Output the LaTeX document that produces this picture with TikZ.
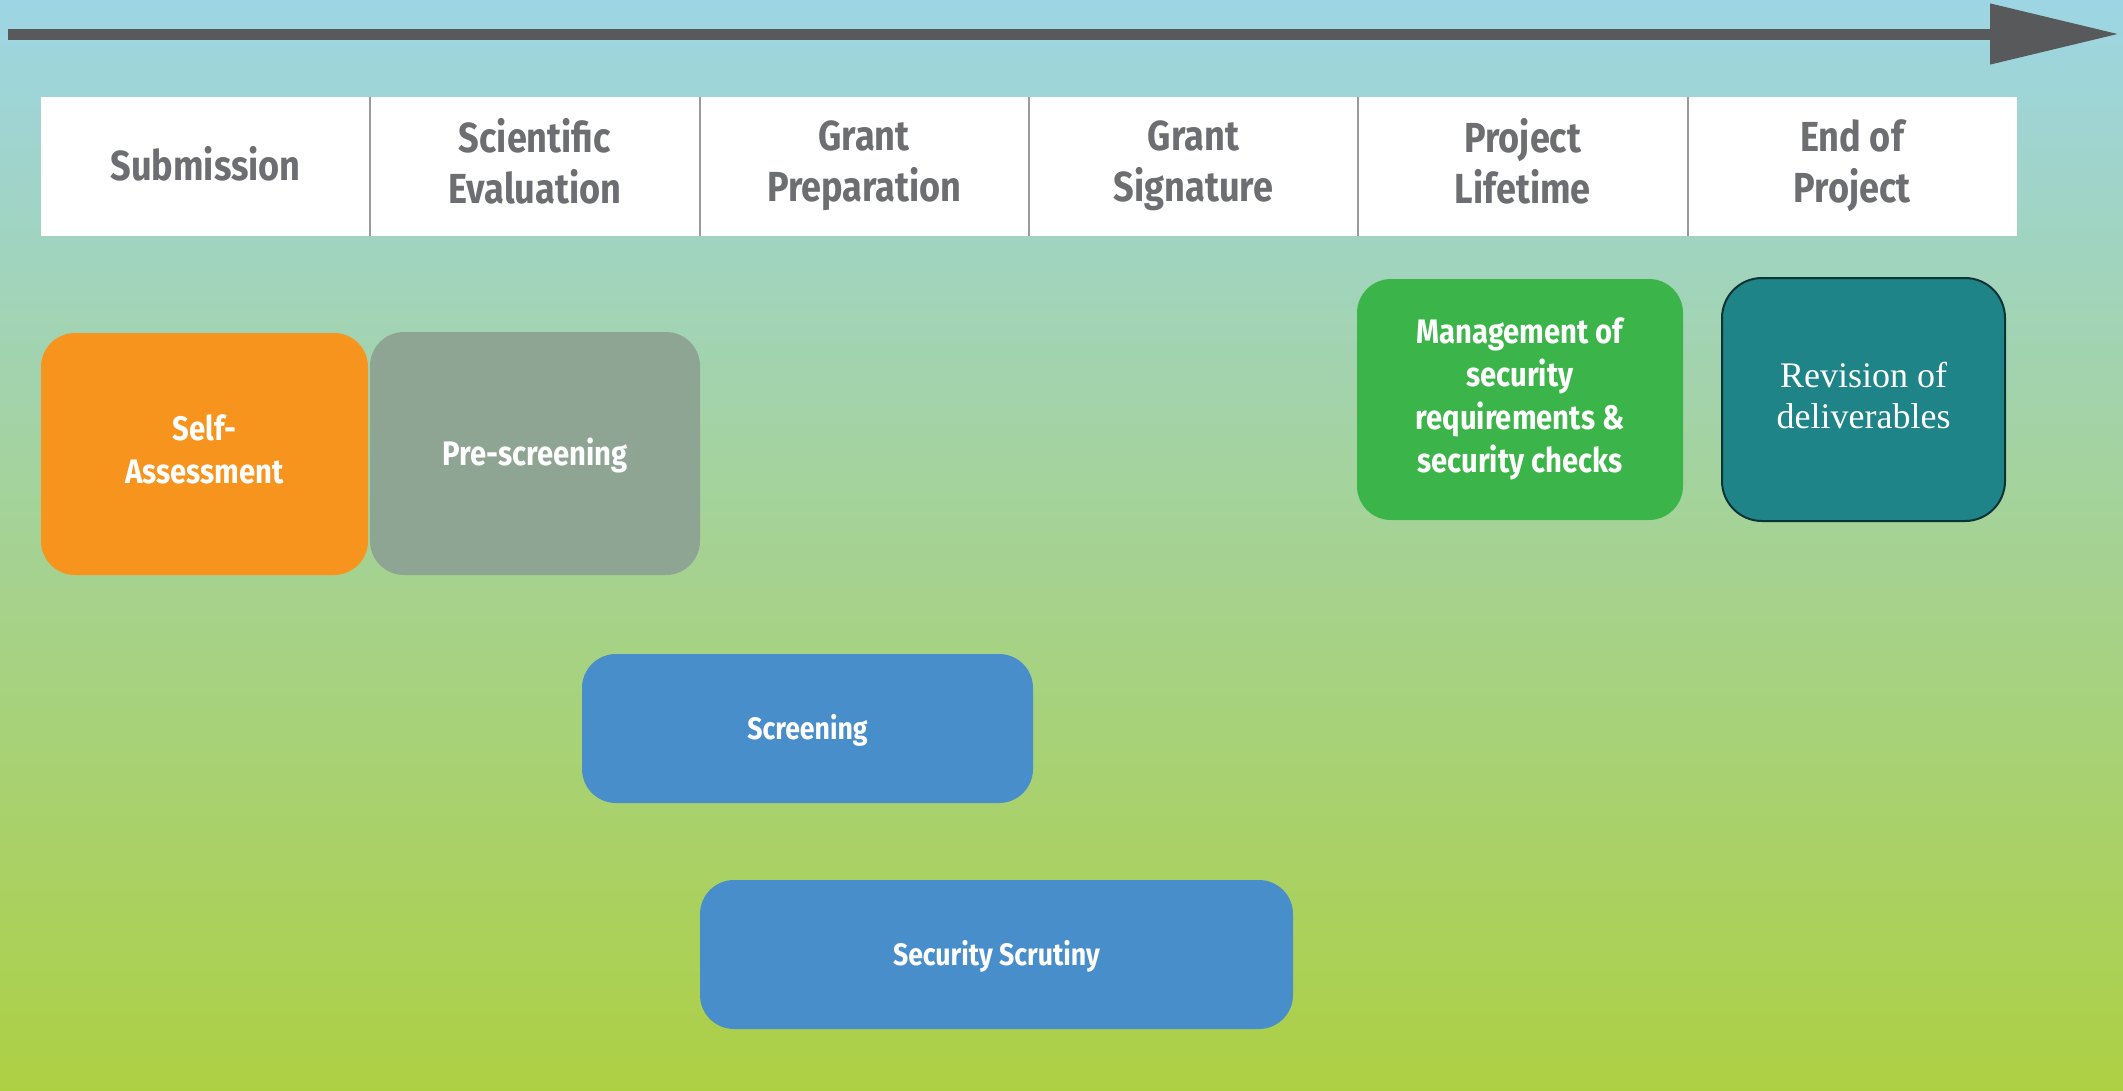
\documentclass[tikz,border=0pt]{standalone}
\usepackage{fontspec}
\usetikzlibrary{arrows.meta}
\newfontfamily\ecfont[FakeStretch=0.86]{Fira Sans}
\newfontfamily\serfont{Liberation Serif}
\newcommand\capstrut{\rule[-0.26em]{0pt}{1.21em}}

\definecolor{skyblue}{HTML}{9DD5E4}
\definecolor{midgreen}{HTML}{A6D4A8}
\definecolor{limegreen}{HTML}{ADD043}
\definecolor{arrowgrey}{HTML}{58595B}
\definecolor{headgrey}{HTML}{6D6E71}
\definecolor{linegrey}{HTML}{9A9A9A}
\definecolor{selforange}{HTML}{F7941D}
\definecolor{presage}{HTML}{8FA593}
\definecolor{screenblue}{HTML}{488ECB}
\definecolor{mgmtgreen}{HTML}{3BB54A}
\definecolor{revteal}{HTML}{1E8488}
\definecolor{revedge}{HTML}{0B3436}

\tikzset{
  phase/.style={fill=white, minimum width=329.3pt, minimum height=139pt, inner sep=0pt,
    align=center, text=headgrey, font=\ecfont\bfseries\fontsize{42}{51}\selectfont,
    execute at begin node=\capstrut, execute at end node=\capstrut},
  task/.style={rounded corners=34pt, inner sep=0pt, align=center, text=white,
    font=\ecfont\bfseries\fontsize{34}{43}\selectfont,
    execute at begin node=\capstrut, execute at end node=\capstrut},
  bluetask/.style={task, fill=screenblue, font=\ecfont\bfseries\fontsize{31}{38}\selectfont}
}

\begin{document}
\begin{tikzpicture}[x=1pt, y=-1pt]
  \useasboundingbox (0,0) rectangle (2123,1090);
  \shade [top color=skyblue, middle color=midgreen, bottom color=limegreen] (0,0) rectangle (2123,1090);

  % timeline arrow
  \coordinate (tstart) at (8,34);
  \coordinate (tend) at (2119,34);
  \draw [arrowgrey, line width=11pt, -{Triangle[length=129pt, width=58pt]}] (tstart) -- (tend);

  % phases
  \node [phase] (sub) at (205.6,166.5) {Submission};
  \node [phase] (sci) at (534.9,166.5) {Scientific\\Evaluation};
  \node [phase] (gprep) at (864.2,166.5) {Grant\\Preparation};
  \node [phase] (gsig) at (1193.5,166.5) {Grant\\Signature};
  \node [phase] (life) at (1522.8,166.5) {Project\\Lifetime};
  \node [phase] (end) at (1852.1,166.5) {End of\\Project};
  \draw [linegrey, line width=2pt] (sub.north east) -- (sub.south east);
  \draw [linegrey, line width=2pt] (sci.north east) -- (sci.south east);
  \draw [linegrey, line width=2pt] (gprep.north east) -- (gprep.south east);
  \draw [linegrey, line width=2pt] (gsig.north east) -- (gsig.south east);
  \draw [linegrey, line width=2pt] (life.north east) -- (life.south east);

  % security steps
  \node [task, fill=selforange, minimum width=327pt, minimum height=242pt] (self) at (204.5,454) {Self-\\Assessment};
  \node [task, fill=presage, minimum width=330pt, minimum height=243pt] (pre) at (535,453.5) {Pre-screening};
  \node [bluetask, minimum width=451pt, minimum height=149pt] (scr) at (807.5,728.5) {Screening};
  \node [bluetask, minimum width=593pt, minimum height=149pt] (scrut) at (996.5,954.5) {Security Scrutiny};
  \node [task, fill=mgmtgreen, minimum width=326pt, minimum height=241pt] (mgmt) at (1520,399.5)
    {Management of\\security\\requirements \&\\security checks};
  \node [task, fill=revteal, draw=revedge, line width=2pt, rounded corners=40pt, minimum width=283pt,
    minimum height=243pt, font=\serfont\fontsize{36}{41}\selectfont] (rev) at (1863.5,399.5) {Revision of\\deliverables};
\end{tikzpicture}
\end{document}
